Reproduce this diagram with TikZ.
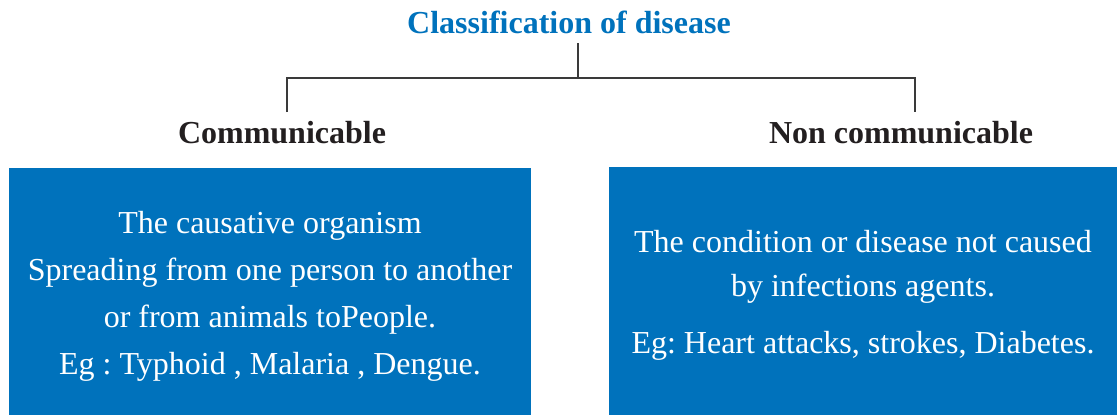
\documentclass[tikz,border=0pt]{standalone}
\usepackage{fontspec}
\setmainfont{Liberation Serif}
\definecolor{diseaseblue}{HTML}{0072BC}
\definecolor{headdark}{HTML}{231F20}
\definecolor{linegray}{HTML}{3A3A3A}
\begin{document}
\frenchspacing
\begin{tikzpicture}[x=1pt,y=-1pt,
  titletext/.style={anchor=base,inner sep=0pt,text=diseaseblue,font=\fontsize{32}{38}\selectfont\bfseries},
  headtext/.style={anchor=base,inner sep=0pt,text=headdark,font=\fontsize{32}{38}\selectfont\bfseries},
  bluebox/.style={fill=diseaseblue,draw=none,inner sep=0pt,text=white,align=center},
  connector/.style={draw=linegray,line width=1.1pt}]
\useasboundingbox (0,0) rectangle (1117,415);
\node[titletext] (title) at (569,33) {Classification of disease};
\node[headtext] (comm) at (282,143) {Communicable};
\node[headtext] (noncomm) at (901,143) {Non communicable};
\coordinate (ttop) at (578,43);
\coordinate (junction) at (578,78);
\coordinate (lend) at (287,112);
\coordinate (rend) at (915,112);
\draw[connector] (ttop) -- (junction);
\draw[connector] (lend) |- (junction) -| (rend);
\node[bluebox,minimum width=522pt,minimum height=256pt,font=\fontsize{32}{47}\selectfont] (cbox) at (270,296)
  {The causative organism\\Spreading from one person to another\\or from animals toPeople.\\Eg : Typhoid , Malaria , Dengue.};
\node[bluebox,minimum width=508pt,minimum height=256pt,font=\fontsize{32}{44}\selectfont] (nbox) at (863,295)
  {The condition or disease not caused\\by infections agents.\\[13pt]Eg: Heart attacks, strokes, Diabetes.};
\end{tikzpicture}
\end{document}
